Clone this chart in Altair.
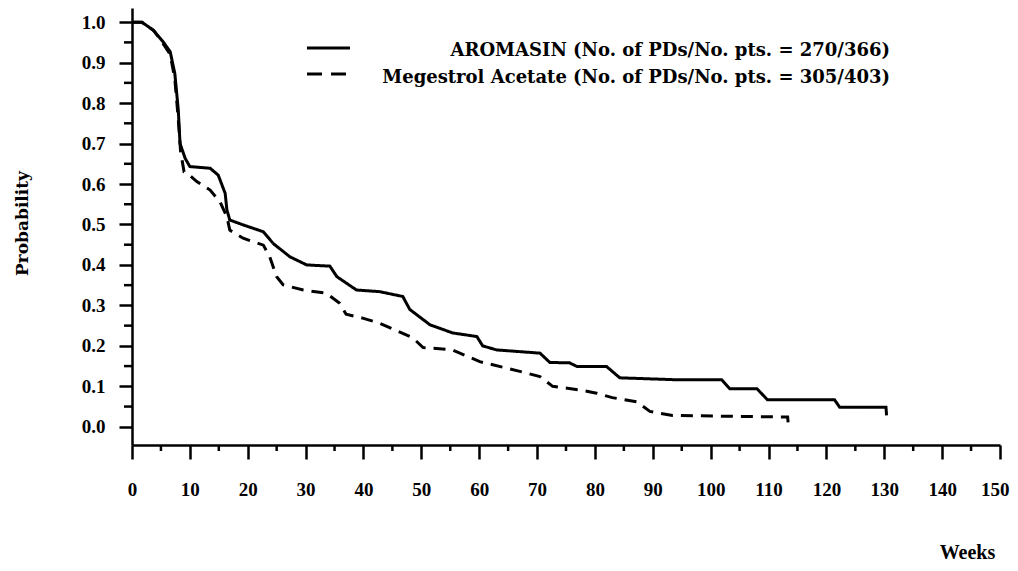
import altair as alt
import pandas as pd

# ---- data ----
series_names = ["AROMASIN", "Megestrol Acetate"]
legend_labels = [
    "AROMASIN (No. of PDs/No. pts. = 270/366)",
    "Megestrol Acetate (No. of PDs/No. pts. = 305/403)",
]

aro_weeks = [0, 1.7, 3.7, 5.4, 6.6, 7.4, 8.0, 8.3, 9.2, 10.0, 13.5, 14.9, 16.1, 16.4,
             16.9, 19.2, 22.7, 24.4, 27.3, 30.2, 34.2, 35.4, 38.8, 42.8, 46.8, 48.0,
             51.5, 55.4, 59.6, 60.6, 63.0, 70.5, 72.2, 75.6, 76.9, 82.0, 84.3, 94.6,
             101.9, 103.3, 108.0, 109.8, 121.4, 122.3, 130.3, 130.4]
aro_prob = [1.0, 1.0, 0.98, 0.951, 0.927, 0.873, 0.783, 0.70, 0.663, 0.643, 0.639, 0.622,
            0.577, 0.536, 0.511, 0.499, 0.482, 0.453, 0.42, 0.40, 0.397, 0.371, 0.338,
            0.334, 0.322, 0.29, 0.252, 0.232, 0.223, 0.20, 0.19, 0.182, 0.159, 0.158,
            0.149, 0.149, 0.121, 0.116, 0.116, 0.094, 0.094, 0.067, 0.067, 0.048,
            0.048, 0.028]

meg_weeks = [0, 1.7, 3.7, 5.0, 6.6, 7.4, 8.0, 8.4, 9.0, 9.7, 11.2, 13.5, 15.2, 16.4,
             16.9, 19.2, 22.7, 23.8, 25.0, 26.1, 29.6, 33.6, 35.9, 37.0, 40.0, 42.8,
             48.5, 50.3, 55.4, 60.1, 67.0, 70.5, 72.7, 77.4, 80.3, 83.0, 87.2, 89.5,
             93.4, 113.3, 113.4]
meg_prob = [1.0, 1.0, 0.98, 0.955, 0.92, 0.86, 0.76, 0.68, 0.63, 0.625, 0.606, 0.585,
            0.556, 0.519, 0.486, 0.466, 0.449, 0.42, 0.371, 0.351, 0.338, 0.33, 0.305,
            0.278, 0.268, 0.256, 0.22, 0.196, 0.19, 0.161, 0.137, 0.124, 0.10, 0.091,
            0.083, 0.072, 0.062, 0.038, 0.028, 0.024, 0.008]

x_major = list(range(0, 151, 10))
x_minor = list(range(5, 150, 10))
y_major = [round(0.1 * i, 1) for i in range(11)]
y_minor = [round(0.05 + 0.1 * i, 2) for i in range(10)]

rows = []
for i, (w, p) in enumerate(zip(aro_weeks, aro_prob)):
    rows.append({"series": series_names[0], "week": w, "prob": p, "idx": i})
for i, (w, p) in enumerate(zip(meg_weeks, meg_prob)):
    rows.append({"series": series_names[1], "week": w, "prob": p, "idx": i})
df = pd.DataFrame(rows)

LABEL_FONT = "Liberation Serif"
TEXT_FONT = "DejaVu Serif"

x_scale = alt.Scale(domain=[0, 150], nice=False, zero=False)
y_scale = alt.Scale(domain=[-0.045, 1.035], nice=False, zero=False)

x_axis = alt.Axis(
    values=x_major, tickSize=14,
    labelFont=LABEL_FONT, labelFontWeight="bold", labelFontSize=19, labelColor="black",
    labelPadding=21, labelOverlap=False, labelFlush=False,
    labelAlign={"condition": {"test": "datum.value === 150", "value": "right"},
                "value": "center"},
    labelOffset={"condition": {"test": "datum.value === 150", "value": 9}, "value": 0},
    grid=False, domainColor="black", domainWidth=2.5, tickColor="black", tickWidth=2.5,
    title="Weeks", titleX=835, titleY=107, titleAlign="center", titleBaseline="middle",
    titleFont=LABEL_FONT, titleFontWeight="bold", titleFontSize=20, titleColor="black",
)

y_axis = alt.Axis(
    values=y_major, format=".1f", tickSize=13,
    labelFont=LABEL_FONT, labelFontWeight="bold", labelFontSize=19, labelColor="black",
    labelPadding=14, labelOverlap=False, labelFlush=False,
    grid=False, domainColor="black", domainWidth=2.5, tickColor="black", tickWidth=2.5,
    title="Probability", titleX=-110, titleY=215, titleAngle=270, titleAlign="center",
    titleBaseline="middle", titleFont=TEXT_FONT, titleFontWeight="bold", titleFontSize=17,
    titleColor="black",
)

lines = alt.Chart(df).mark_line(color="black", strokeWidth=3).encode(
    x=alt.X("week:Q", scale=x_scale, axis=x_axis),
    y=alt.Y("prob:Q", scale=y_scale, axis=y_axis),
    strokeDash=alt.StrokeDash("series:N",
                              scale=alt.Scale(domain=series_names, range=[[1, 0], [12, 8]]),
                              legend=None),
    order="idx:Q",
)

# minor ticks (every 5 weeks, every 0.05)
xminor = alt.Chart(pd.DataFrame({"w": x_minor})).mark_rule(
    color="black", strokeWidth=2.5).encode(
    x=alt.X("w:Q", scale=x_scale), y=alt.value(437), y2=alt.value(443))
yminor = alt.Chart(pd.DataFrame({"p": y_minor})).mark_rule(
    color="black", strokeWidth=2.5).encode(
    y=alt.Y("p:Q", scale=y_scale), x=alt.value(-8), x2=alt.value(0))

one = pd.DataFrame({"k": [0]})
leg_solid = alt.Chart(one).mark_rule(color="black", strokeWidth=3).encode(
    x=alt.value(175), x2=alt.value(218), y=alt.value(40))
leg_dash = alt.Chart(one).mark_rule(color="black", strokeWidth=3, strokeDash=[15, 9]).encode(
    x=alt.value(175), x2=alt.value(218), y=alt.value(66))

def leg_text(label, ypix):
    return alt.Chart(pd.DataFrame({"t": [label]})).mark_text(
        align="right", baseline="middle", font=TEXT_FONT, fontWeight="bold",
        fontSize=18, color="black").encode(x=alt.value(758), y=alt.value(ypix), text="t:N")

chart = alt.layer(
    lines, xminor, yminor, leg_solid, leg_dash,
    leg_text(legend_labels[0], 43), leg_text(legend_labels[1], 70),
).properties(
    width=868, height=437,
    padding={"left": 124, "top": 0, "right": 10, "bottom": 118},
    autosize=alt.AutoSizeParams(type="none"),
    background="white",
).configure_view(stroke=None)

chart.save("out.html", embed_options={"renderer": "svg", "actions": False})
